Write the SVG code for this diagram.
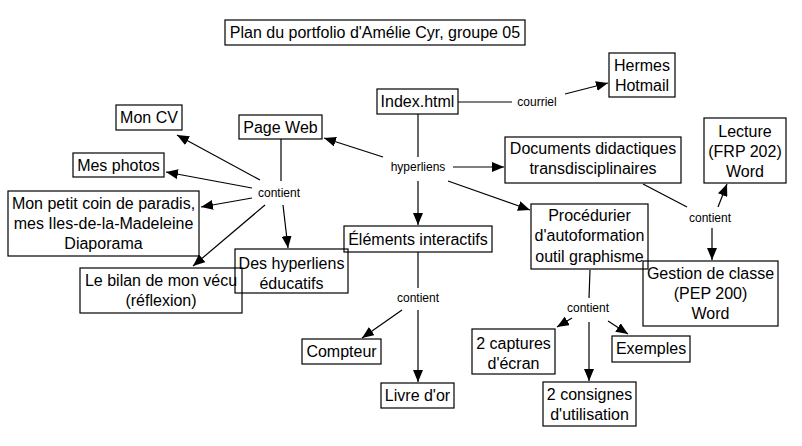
<svg xmlns="http://www.w3.org/2000/svg" width="802" height="446" viewBox="0 0 802 446">
<style>
.box{fill:none;stroke:#000;stroke-width:1.2}
.t{font-family:"Liberation Sans",Arial,sans-serif;font-size:16px;fill:#000;text-anchor:middle}
.l{font-family:"Liberation Sans",Arial,sans-serif;font-size:12px;fill:#000;text-anchor:middle}
.c{fill:none;stroke:#000;stroke-width:1.2}
.a{marker-end:url(#ah)}
</style>
<defs>
<marker id="ah" viewBox="0 0 12 10" refX="12" refY="5" markerWidth="12" markerHeight="10" orient="auto" markerUnits="userSpaceOnUse">
<path d="M0,0 L12,5 L0,10 z" fill="#000"/>
</marker>
</defs>
<rect width="802" height="446" fill="#fff"/>
<g id="connectors">
<path class="c" d="M458,102 L512,102"/>
<path class="c a" d="M565,94 L608,83"/>
<path class="c" d="M418,114 L418,157"/>
<path class="c a" d="M383,157 L324,138"/>
<path class="c a" d="M453,167 L504,167"/>
<path class="c a" d="M448,181 L530,210"/>
<path class="c a" d="M418,181 L418,225"/>
<path class="c" d="M281,139 L281,181"/>
<path class="c a" d="M260,180 L177,135"/>
<path class="c a" d="M252,188 L166,172"/>
<path class="c a" d="M252,198 L201,207"/>
<path class="c a" d="M265,205 L193,266"/>
<path class="c a" d="M283,205 L288,248"/>
<path class="c" d="M418,252 L418,288"/>
<path class="c a" d="M418,310 L418,382"/>
<path class="c a" d="M402,310 L362,338"/>
<path class="c" d="M643,184 L687,207"/>
<path class="c a" d="M718,207 L727,184"/>
<path class="c a" d="M712,228 L712,260"/>
<path class="c" d="M590,270 L589,298"/>
<path class="c a" d="M589,322 L589,381"/>
<path class="c a" d="M572,318 L557,327"/>
<path class="c a" d="M608,321 L628,334"/>
<text class="l" x="537" y="106">courriel</text>
<text class="l" x="418" y="171">hyperliens</text>
<text class="l" x="279" y="197">contient</text>
<text class="l" x="418" y="302">contient</text>
<text class="l" x="710" y="222">contient</text>
<text class="l" x="588" y="312">contient</text>
</g>
<g id="title"><rect class="box" x="225" y="20" width="300" height="25"/><text class="t" x="375" y="38">Plan du portfolio d'Amélie Cyr, groupe 05</text></g>
<g id="index"><rect class="box" x="377" y="89" width="81" height="25"/><text class="t" x="417.5" y="107">Index.html</text></g>
<g id="hermes"><rect class="box" x="609" y="53" width="66" height="44"/><text class="t" x="642" y="71">Hermes</text><text class="t" x="642" y="91">Hotmail</text></g>
<g id="documents"><rect class="box" x="505" y="137" width="176" height="46"/><text class="t" x="593" y="154">Documents didactiques</text><text class="t" x="593" y="174">transdisciplinaires</text></g>
<g id="lecture"><rect class="box" x="704" y="118" width="82" height="65"/><text class="t" x="745" y="137">Lecture</text><text class="t" x="745" y="157">(FRP 202)</text><text class="t" x="745" y="177">Word</text></g>
<g id="gestion"><rect class="box" x="643" y="261" width="135" height="65"/><text class="t" x="710.5" y="279">Gestion de classe</text><text class="t" x="710.5" y="299">(PEP 200)</text><text class="t" x="710.5" y="319">Word</text></g>
<g id="procedurier"><rect class="box" x="531" y="204" width="117" height="65"/><text class="t" x="589.5" y="221">Procédurier</text><text class="t" x="589.5" y="241">d'autoformation</text><text class="t" x="589.5" y="262">outil graphisme</text></g>
<g id="captures"><rect class="box" x="472" y="329" width="83" height="45"/><text class="t" x="513.5" y="349">2 captures</text><text class="t" x="513.5" y="369">d'écran</text></g>
<g id="exemples"><rect class="box" x="612" y="336" width="78" height="26"/><text class="t" x="651" y="354">Exemples</text></g>
<g id="consignes"><rect class="box" x="543" y="382" width="93" height="44"/><text class="t" x="589.5" y="400">2 consignes</text><text class="t" x="589.5" y="420">d'utilisation</text></g>
<g id="elements"><rect class="box" x="344" y="226" width="148" height="26"/><text class="t" x="418" y="245">Éléments interactifs</text></g>
<g id="compteur"><rect class="box" x="302" y="339" width="79" height="25"/><text class="t" x="341.5" y="357">Compteur</text></g>
<g id="livre"><rect class="box" x="381" y="383" width="73" height="25"/><text class="t" x="417.5" y="401">Livre d'or</text></g>
<g id="pageweb"><rect class="box" x="239" y="115" width="83" height="24"/><text class="t" x="280.5" y="133">Page Web</text></g>
<g id="moncv"><rect class="box" x="116" y="105" width="66" height="25"/><text class="t" x="149" y="123">Mon CV</text></g>
<g id="mesphotos"><rect class="box" x="73" y="153" width="91" height="24"/><text class="t" x="118.5" y="171">Mes photos</text></g>
<g id="paradis"><rect class="box" x="8" y="191" width="191" height="65"/><text class="t" x="103.5" y="209">Mon petit coin de paradis,</text><text class="t" x="103.5" y="229">mes Iles-de-la-Madeleine</text><text class="t" x="103.5" y="249">Diaporama</text></g>
<g id="bilan"><rect class="box" x="80" y="268" width="162" height="45"/><text class="t" x="161" y="286">Le bilan de mon vécu</text><text class="t" x="161" y="306">(réflexion)</text></g>
<g id="hyperliens"><rect class="box" x="235" y="249" width="113" height="44"/><text class="t" x="291.5" y="269">Des hyperliens</text><text class="t" x="291.5" y="289">éducatifs</text></g>
</svg>
